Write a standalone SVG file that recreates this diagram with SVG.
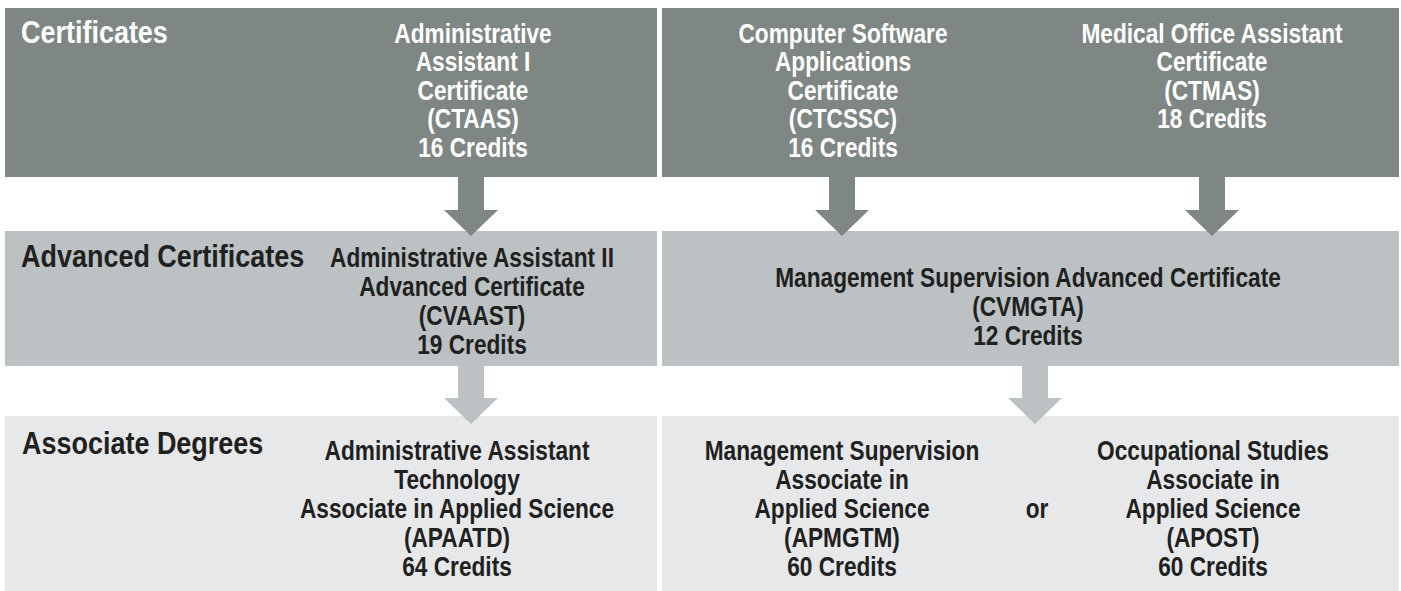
<svg xmlns="http://www.w3.org/2000/svg" width="1401" height="591" viewBox="0 0 1401 591">
<style>
.t{font-family:"Liberation Sans",Arial,sans-serif;font-weight:bold;font-size:27px;text-anchor:middle}
.h{font-family:"Liberation Sans",Arial,sans-serif;font-weight:bold;font-size:31px}
.w{fill:#ffffff}
.d{fill:#1f211f}
.b1{fill:#7f8785}
.b2{fill:#bcc1c3}
.b3{fill:#e7e8e9}
</style>
<rect width="1401" height="591" fill="#ffffff"/>
<g id="bands">
<rect class="b1" x="5" y="8" width="652" height="169"/>
<rect class="b1" x="662" y="8" width="737" height="169"/>
<rect class="b2" x="5" y="231" width="652" height="135"/>
<rect class="b2" x="662" y="231" width="737" height="135"/>
<rect class="b3" x="5" y="416" width="652" height="175"/>
<rect class="b3" x="662" y="416" width="737" height="175"/>
</g>
<g id="connectors">
<polygon class="b1" points="458,177 484,177 484,210 498,210 471,236 444,210 458,210"/>
<polygon class="b1" points="829,177 855,177 855,210 869,210 842,236 815,210 829,210"/>
<polygon class="b1" points="1199,177 1225,177 1225,210 1239,210 1212,236 1185,210 1199,210"/>
<polygon class="b2" points="458,366 484,366 484,398 498,398 471,424 444,398 458,398"/>
<polygon class="b2" points="1022,366 1048,366 1048,398 1062,398 1035,424 1008,398 1022,398"/>
</g>
<g id="label-certificates" transform="translate(21 0) scale(0.87 1)"><text class="h w" x="0" y="43">Certificates</text></g>
<g id="label-advanced" transform="translate(21 0) scale(0.87 1)"><text class="h d" x="0" y="267">Advanced Certificates</text></g>
<g id="label-associate" transform="translate(22 0) scale(0.87 1)"><text class="h d" x="0" y="454">Associate Degrees</text></g>
<g id="ctaas" transform="translate(473 0) scale(0.84 1)">
<text class="t w" x="0" y="43">Administrative</text>
<text class="t w" x="0" y="71.5">Assistant I</text>
<text class="t w" x="0" y="100">Certificate</text>
<text class="t w" x="0" y="128.5">(CTAAS)</text>
<text class="t w" x="0" y="157">16 Credits</text>
</g>
<g id="ctcssc" transform="translate(843 0) scale(0.84 1)">
<text class="t w" x="0" y="43">Computer Software</text>
<text class="t w" x="0" y="71.5">Applications</text>
<text class="t w" x="0" y="100">Certificate</text>
<text class="t w" x="0" y="128.5">(CTCSSC)</text>
<text class="t w" x="0" y="157">16 Credits</text>
</g>
<g id="ctmas" transform="translate(1212 0) scale(0.84 1)">
<text class="t w" x="0" y="43">Medical Office Assistant</text>
<text class="t w" x="0" y="71.5">Certificate</text>
<text class="t w" x="0" y="100">(CTMAS)</text>
<text class="t w" x="0" y="128.5">18 Credits</text>
</g>
<g id="cvaast" transform="translate(472 0) scale(0.84 1)">
<text class="t d" x="0" y="267">Administrative Assistant II</text>
<text class="t d" x="0" y="296">Advanced Certificate</text>
<text class="t d" x="0" y="325">(CVAAST)</text>
<text class="t d" x="0" y="354">19 Credits</text>
</g>
<g id="cvmgta" transform="translate(1028 0) scale(0.84 1)">
<text class="t d" x="0" y="287">Management Supervision Advanced Certificate</text>
<text class="t d" x="0" y="316">(CVMGTA)</text>
<text class="t d" x="0" y="345">12 Credits</text>
</g>
<g id="apaatd" transform="translate(457 0) scale(0.84 1)">
<text class="t d" x="0" y="460">Administrative Assistant</text>
<text class="t d" x="0" y="489">Technology</text>
<text class="t d" x="0" y="518">Associate in Applied Science</text>
<text class="t d" x="0" y="547">(APAATD)</text>
<text class="t d" x="0" y="576">64 Credits</text>
</g>
<g id="apmgtm" transform="translate(842 0) scale(0.84 1)">
<text class="t d" x="0" y="460">Management Supervision</text>
<text class="t d" x="0" y="489">Associate in</text>
<text class="t d" x="0" y="518">Applied Science</text>
<text class="t d" x="0" y="547">(APMGTM)</text>
<text class="t d" x="0" y="576">60 Credits</text>
</g>
<g id="or" transform="translate(1037 0) scale(0.84 1)"><text class="t d" x="0" y="518">or</text></g>
<g id="apost" transform="translate(1213 0) scale(0.84 1)">
<text class="t d" x="0" y="460">Occupational Studies</text>
<text class="t d" x="0" y="489">Associate in</text>
<text class="t d" x="0" y="518">Applied Science</text>
<text class="t d" x="0" y="547">(APOST)</text>
<text class="t d" x="0" y="576">60 Credits</text>
</g>
</svg>
